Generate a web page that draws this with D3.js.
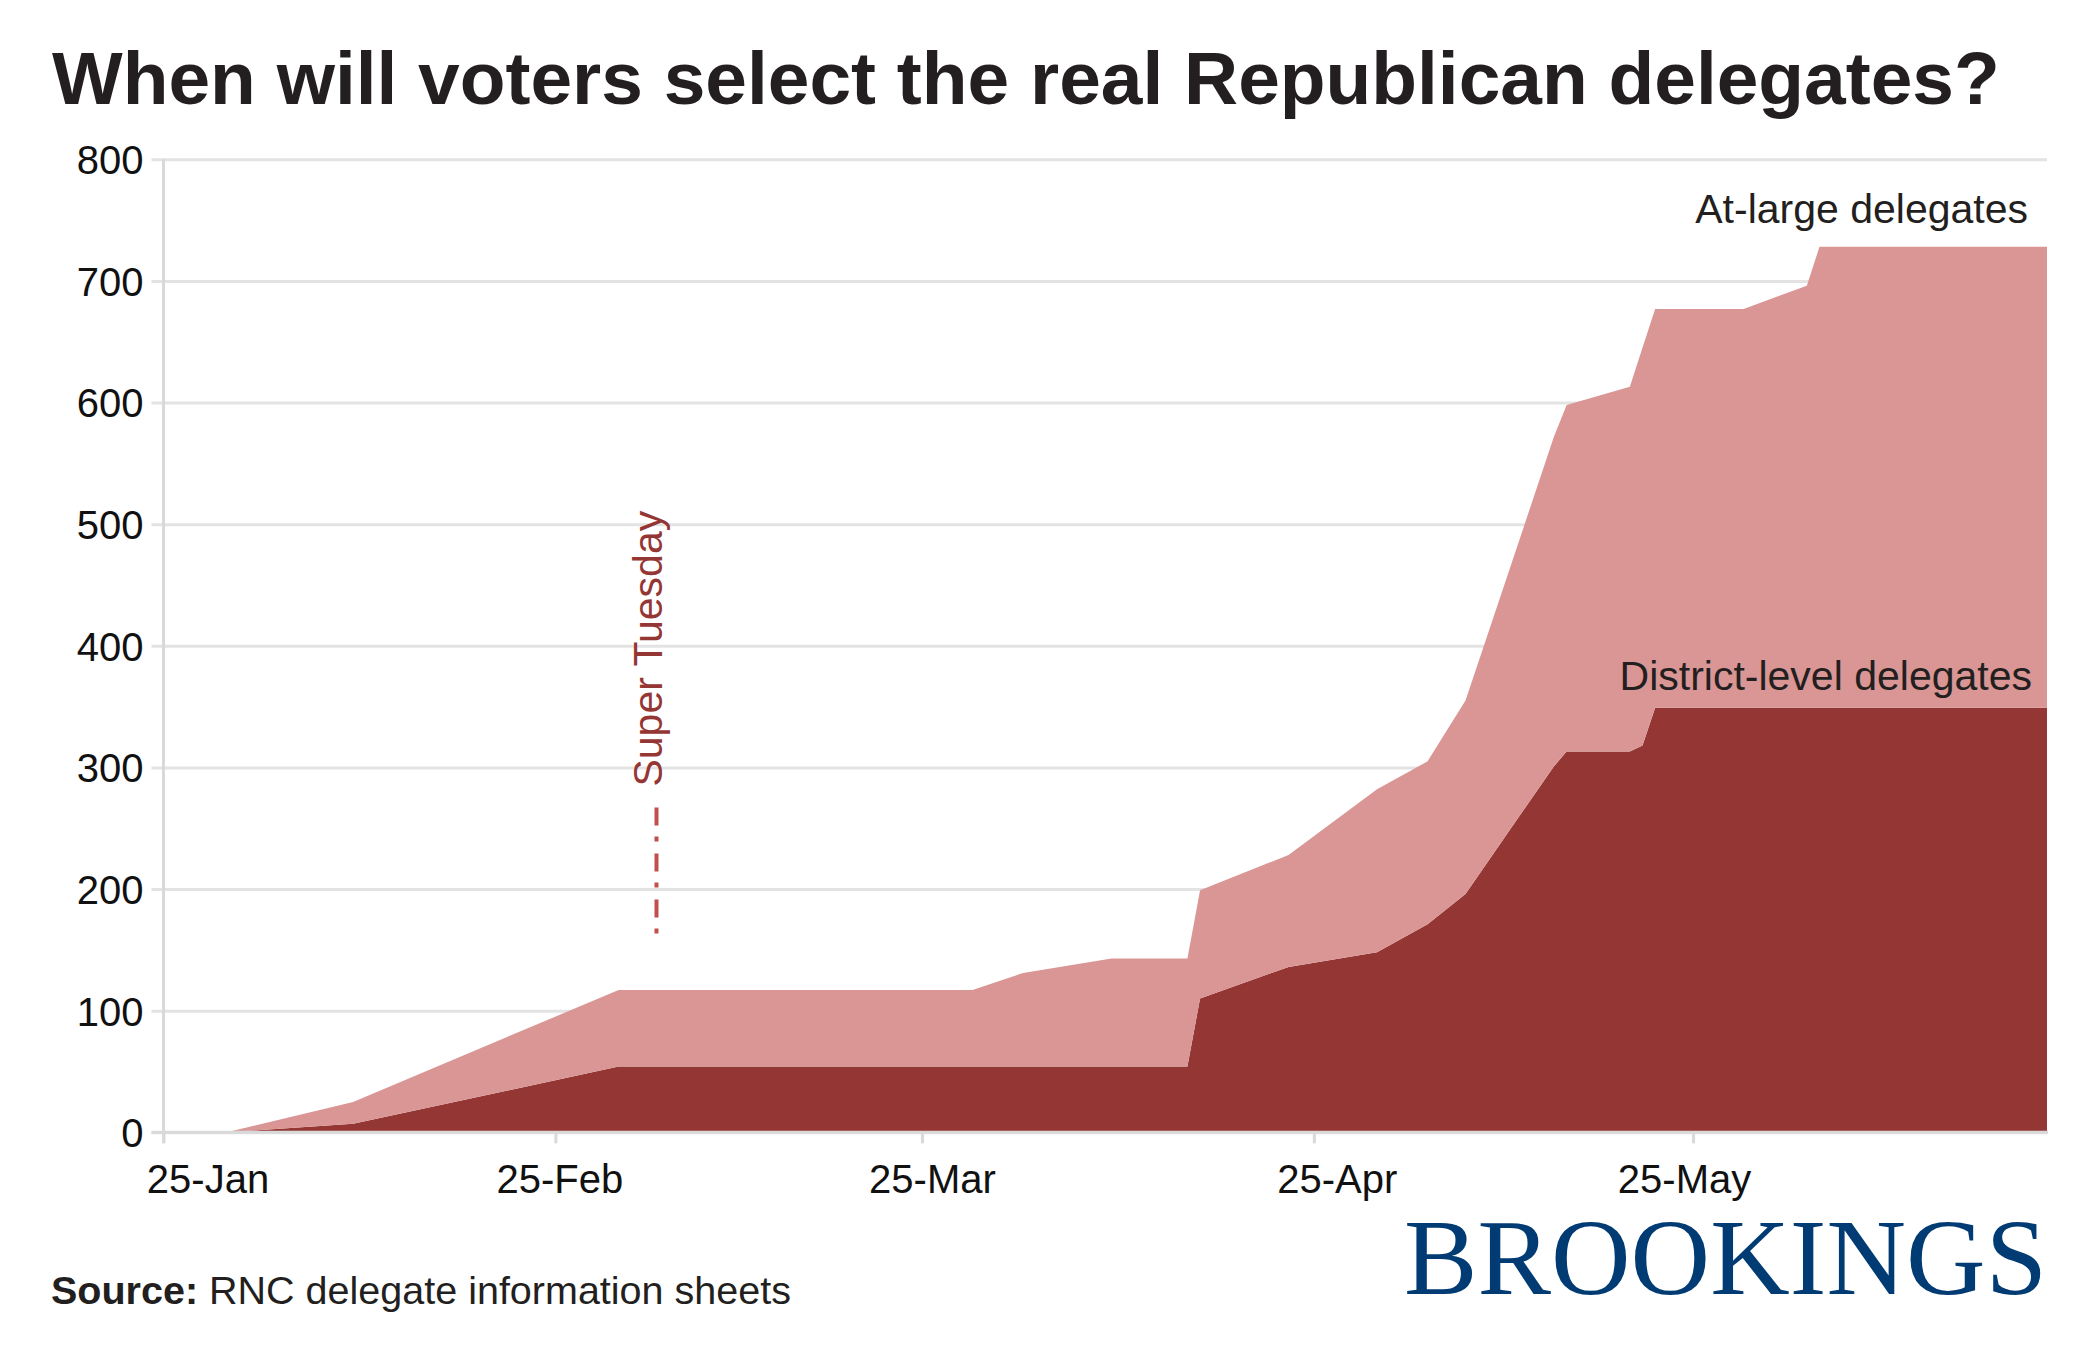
<!DOCTYPE html>
<html>
<head>
<meta charset="utf-8">
<script src="https://cdn.jsdelivr.net/npm/d3@7"></script>
<style>
  html, body { margin: 0; padding: 0; background: #ffffff; }
  svg { display: block; }
</style>
</head>
<body>
<svg id="chart" width="2100" height="1350"></svg>
<script>
// ---------- data ----------
const dates = ["2016-01-30","2016-02-09","2016-03-01","2016-03-29","2016-04-02","2016-04-09",
  "2016-04-15","2016-04-16","2016-04-23","2016-04-30","2016-05-04","2016-05-07","2016-05-14",
  "2016-05-15","2016-05-20","2016-05-21","2016-05-22","2016-05-29","2016-06-03","2016-06-04","2016-06-22"];
const districtLevel = [0, 7, 54, 54, 54, 54, 54, 110, 136, 148, 171, 196, 301, 313, 313, 318, 349, 349, 349, 349, 349];
const atLarge       = [0, 18, 63, 63, 77, 89, 89, 89, 92, 134, 134, 159, 271, 285, 300, 327, 328, 328, 347, 379, 379];
const seriesNames = ["District-level delegates", "At-large delegates"];
const xTickDates = ["2016-01-25","2016-02-25","2016-03-25","2016-04-25","2016-05-25"];
const xTickLabels = ["25-Jan","25-Feb","25-Mar","25-Apr","25-May"];
const yTickValues = [0, 100, 200, 300, 400, 500, 600, 700, 800];
const xDomain = ["2016-01-25", "2016-06-22"];
const superTuesday = { date: "2016-03-04", from: 163, to: 267, label: "Super Tuesday" };
const titleText = "When will voters select the real Republican delegates?";
const sourceBold = "Source:";
const sourceText = " RNC delegate information sheets";
const brandText = "BROOKINGS";

// ---------- setup ----------
const SANS = '"Liberation Sans", Arial, Helvetica, sans-serif';
const SERIF = '"Liberation Serif", "Times New Roman", "DejaVu Serif", serif';
const parse = d3.timeParse("%Y-%m-%d");
const svg = d3.select("#chart").style("font-family", SANS);
const X0 = 163.5, X1 = 2047, Y0 = 1132.3, YTOP = 159.3;
const x = d3.scaleTime().domain(xDomain.map(parse)).range([X0, X1]);
const y = d3.scaleLinear().domain([0, 800]).range([Y0, YTOP]);

const colors = { district: "#943634", atLarge: "#d99694", grid: "#e3e3e3", axis: "#d9d9d9",
                 text: "#231f20", tick: "#111111", dash: "#c0504d", brand: "#003b73" };

const rows = dates.map((d, i) => ({ date: parse(d), district: districtLevel[i], atLarge: atLarge[i] }));
const stack = d3.stack().keys(["district", "atLarge"]);
const layers = stack(rows);

// ---------- y axis with gridlines ----------
const yAxis = d3.axisLeft(y).tickValues(yTickValues).tickSize(-(X1 - X0)).tickPadding(20).tickFormat(d3.format("d"));
const gY = svg.append("g").attr("transform", `translate(${X0},0)`).call(yAxis);
gY.select(".domain").remove();
gY.selectAll(".tick line").attr("x1", -12).attr("stroke", colors.grid).attr("stroke-width", 3);
gY.selectAll(".tick text").attr("fill", colors.tick).attr("dy", "0.36em")
  .style("font-size", "40px").style("font-family", SANS);

// ---------- areas ----------
const area = d3.area()
  .x(d => x(d.data.date))
  .y0(d => y(d[0]))
  .y1(d => y(d[1]));
svg.append("g").selectAll("path").data(layers).join("path")
  .attr("d", area)
  .attr("fill", d => d.key === "district" ? colors.district : colors.atLarge);

// ---------- vertical y axis line ----------
svg.append("line").attr("x1", X0).attr("x2", X0).attr("y1", YTOP).attr("y2", Y0 + 11)
  .attr("stroke", colors.axis).attr("stroke-width", 3);

// ---------- x axis ----------
const labelNudge = [44, 4, 10, 23, -9];
const xAxis = d3.axisBottom(x).tickValues(xTickDates.map(parse)).tickSize(11)
  .tickFormat((d, i) => xTickLabels[i]);
const gX = svg.append("g").attr("transform", `translate(0,${Y0})`).call(xAxis);
gX.select(".domain").attr("d", `M${X0 - 12},0H${X1 + 1}`).attr("stroke", colors.axis).attr("stroke-width", 3);
gX.selectAll(".tick line").attr("stroke", colors.axis).attr("stroke-width", 3);
gX.selectAll(".tick text").attr("fill", colors.tick).attr("y", 61).attr("dy", 0)
  .attr("dx", (d, i) => labelNudge[i])
  .style("font-size", "40px").style("font-family", SANS);

// ---------- Super Tuesday annotation ----------
const stx = x(parse(superTuesday.date));
svg.append("line").attr("x1", stx).attr("x2", stx)
  .attr("y1", y(superTuesday.to)).attr("y2", y(superTuesday.from))
  .attr("stroke", colors.dash).attr("stroke-width", 4).attr("stroke-dasharray", "18,11,5,12");
svg.append("text").attr("transform", `translate(${stx + 6},${y(superTuesday.to) - 21}) rotate(-90)`)
  .style("font-size", "41px").attr("fill", colors.district).text(superTuesday.label);

// ---------- series labels ----------
svg.append("text").attr("x", 2028).attr("y", 223).attr("text-anchor", "end")
  .style("font-size", "41px").attr("fill", colors.text).text(seriesNames[1]);
svg.append("text").attr("x", 2032).attr("y", 690).attr("text-anchor", "end")
  .style("font-size", "41px").attr("fill", colors.text).text(seriesNames[0]);

// ---------- title ----------
const title = svg.append("text").attr("x", 52).attr("y", 104)
  .style("font-size", "75px").style("font-weight", "bold").attr("fill", colors.text).text(titleText);
const tw = title.node().getComputedTextLength();
if (tw > 0) title.style("font-size", (75 * 1948 / tw) + "px");

// ---------- source ----------
const src = svg.append("text").attr("x", 51).attr("y", 1304).style("font-size", "39.5px").attr("fill", colors.text);
src.append("tspan").style("font-weight", "bold").text(sourceBold);
src.append("tspan").text(sourceText);

// ---------- brand ----------
svg.append("text").attr("x", 1404).attr("y", 1294)
  .style("font-size", "109px").style("font-family", SERIF)
  .attr("fill", colors.brand).attr("textLength", 643).attr("lengthAdjust", "spacingAndGlyphs")
  .text(brandText);
</script>
</body>
</html>
